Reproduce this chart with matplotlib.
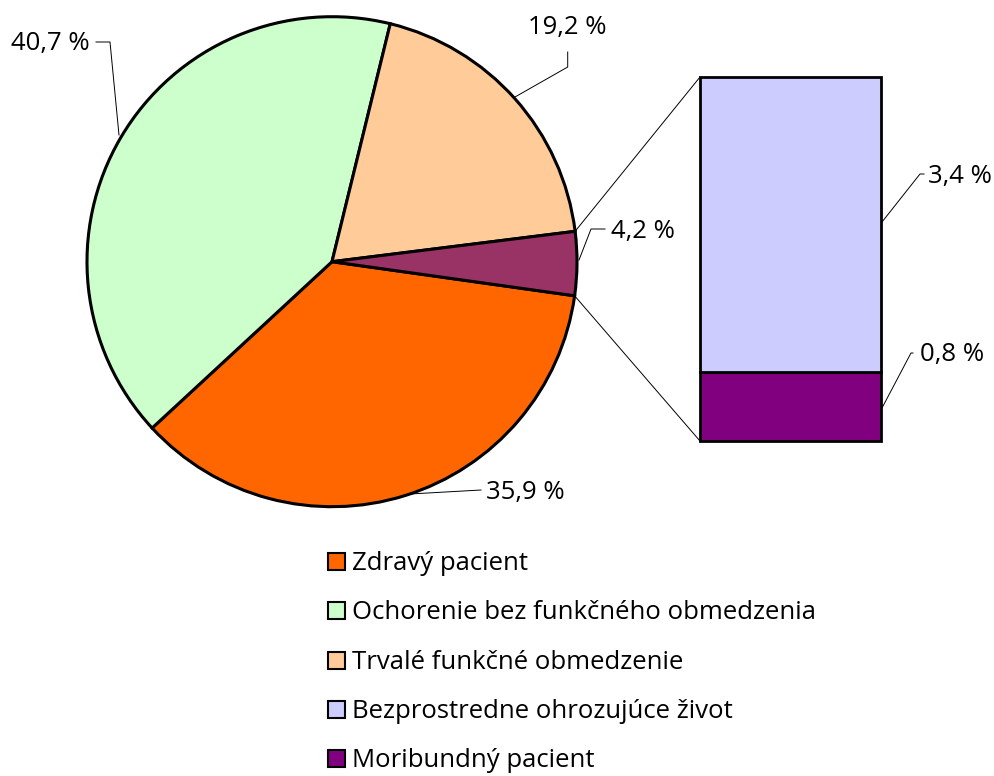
import numpy as np
import matplotlib
matplotlib.use('Agg')
from matplotlib import pyplot as plt
from matplotlib.patches import Rectangle

plt.rcParams['font.family'] = ['Open Sans', 'DejaVu Sans']

# data
pie_names = ['Zdravý pacient', 'Ochorenie bez funkčného obmedzenia',
             'Trvalé funkčné obmedzenie', 'Iné']
pie_values = [35.9, 40.7, 19.2, 4.2]
pie_colors = ['#FF6600', '#CCFFCC', '#FFCC99', '#993366']

bar_names = ['Moribundný pacient', 'Bezprostredne ohrozujúce život']
bar_values = [0.8, 3.4]
bar_colors = ['#800080', '#CCCCFF']

legend_names = ['Zdravý pacient', 'Ochorenie bez funkčného obmedzenia',
                'Trvalé funkčné obmedzenie', 'Bezprostredne ohrozujúce život',
                'Moribundný pacient']
legend_colors = ['#FF6600', '#CCFFCC', '#FFCC99', '#CCCCFF', '#800080']


def fmt(v):
    return f'{v:.1f} %'.replace('.', ',')


W, H = 995, 776
FS = 18.5
fig = plt.figure(figsize=(W / 100, H / 100), dpi=100)
ax = fig.add_axes([0, 0, 1, 1])

cx, cy, r = 332, H - 261.7, 245
wedges, _ = ax.pie(pie_values, colors=pie_colors, startangle=-8, counterclock=False,
                   center=(cx, cy), radius=r,
                   wedgeprops=dict(edgecolor='black', linewidth=2.2))
ax.set_xlim(0, W)
ax.set_ylim(0, H)
ax.set_aspect('auto')
ax.axis('off')

# bar of the "other" slice
bx0, bx1, btop, bbot = 700, 881, 77, 441
bax = fig.add_axes([bx0 / W, (H - bbot) / H, (bx1 - bx0) / W, (bbot - btop) / H])
bottom = 0
for v, c in zip(bar_values, bar_colors):
    bax.bar(0, v, bottom=bottom, width=1, color=c, edgecolor='black',
            linewidth=2, clip_on=False)
    bottom += v
bax.set_xlim(-0.5, 0.5)
bax.set_ylim(0, sum(bar_values))
bax.axis('off')

# connector lines between slice and bar
w = wedges[3]
t_hi, t_lo = np.radians(max(w.theta1, w.theta2)), np.radians(min(w.theta1, w.theta2))
ax.plot([cx + r * np.cos(t_hi), bx0], [cy + r * np.sin(t_hi), H - btop], color='black', lw=0.7)
ax.plot([cx + r * np.cos(t_lo), bx0], [cy + r * np.sin(t_lo), H - bbot], color='black', lw=0.7)

# labels with leader lines (image pixel coords)
labels = [
    (fmt(pie_values[1]), 90, 50, 'right', [(96, 42), (110, 42), (119, 135)]),
    (fmt(pie_values[2]), 567, 34, 'center', [(567.7, 52), (567.7, 67), (515, 97)]),
    (fmt(pie_values[3]), 611, 238, 'left', [(605, 229), (591, 229), (579, 260)]),
    (fmt(pie_values[0]), 486, 499, 'left', [(481, 490), (410, 494)]),
    (fmt(bar_values[1]), 928, 183, 'left', [(924, 174), (920, 174), (882, 222)]),
    (fmt(bar_values[0]), 920, 361, 'left', [(913, 353), (911, 353), (882, 408)]),
]
for txt, tx, ty, ha, pts in labels:
    xs = [p[0] for p in pts]
    ys = [H - p[1] for p in pts]
    ax.plot(xs, ys, color='black', lw=0.7)
    ax.text(tx, H - ty, txt, ha=ha, va='baseline', fontsize=FS)

# legend
for i, (name, c) in enumerate(zip(legend_names, legend_colors)):
    base = 570 + i * 49.3
    ax.add_patch(Rectangle((328, H - base), 17, 17, facecolor=c,
                           edgecolor='black', linewidth=1.5))
    ax.text(352, H - base, name, ha='left', va='baseline', fontsize=FS)

plt.savefig('out.png', dpi=100)
